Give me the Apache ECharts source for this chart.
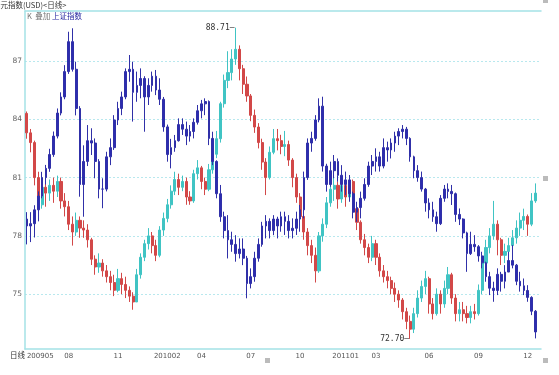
<!DOCTYPE html>
<html><head><meta charset="utf-8">
<script src="https://cdn.jsdelivr.net/npm/echarts@6/dist/echarts.min.js"></script>
<style>html,body{margin:0;padding:0;background:#fff}#c{width:559px;height:375px}</style>
</head><body><div id="c"></div>
<script>
// weekly bars, week 0 = 2009-05-18, last category left empty
const weekCount = 136;
const tickWeeks = [0, 11, 24, 37, 46, 59, 72, 84, 92, 106, 119, 132];
const tickLabels = ['200905', '08', '11', '201002', '04', '07', '10', '201101', '03', '06', '09', '12'];
const yTicks = [75, 78, 81, 84, 87];

// 美元指数 (weekly open / close / low / high)
const dxOpen = [84.3,83.3,82.8,81.0,79.6,80.5,80.2,80.6,80.3,80.8,79.8,79.5,78.6,78.2,78.8,78.4,78.3,77.8,76.8,76.4,
76.6,76.2,75.9,75.6,75.2,75.8,75.5,75.2,74.9,74.6,76.0,76.9,77.6,78.0,77.5,77.0,78.3,78.9,79.6,80.3,
80.9,80.5,80.8,80.0,79.8,81.2,81.5,80.8,80.4,81.4,82.2,83.0,84.8,86.0,86.4,87.1,87.6,86.6,85.8,85.2,
84.2,83.6,82.8,81.8,81.0,82.3,83.0,82.9,82.6,82.7,81.9,81.0,80.0,79.0,78.2,77.5,77.0,76.2,78.0,78.6,
79.7,80.4,80.6,79.9,80.6,80.0,80.8,79.4,78.7,77.8,77.4,76.9,77.6,76.9,76.2,75.9,75.7,75.3,75.0,74.7,
74.1,73.6,73.2,74.0,74.8,75.4,75.8,74.5,74.0,75.0,74.5,75.3,76.0,74.8,74.0,74.2,74.0,73.8,74.1,74.0,
75.2,76.6,77.4,78.0,78.6,77.8,77.0,77.2,77.5,77.9,78.4,78.8,79.0,78.6,79.8];
const dxClose = [83.3,82.8,81.0,79.6,80.5,80.2,80.6,80.3,80.8,79.8,79.5,78.6,78.2,78.8,78.4,78.3,77.8,76.8,76.4,76.6,
76.2,75.9,75.6,75.2,75.8,75.5,75.2,74.9,74.6,76.0,76.9,77.6,78.0,77.5,77.0,78.3,78.9,79.6,80.3,80.9,
80.5,80.8,80.0,79.8,81.2,81.5,80.8,80.4,81.4,82.2,83.0,84.8,86.0,86.4,87.1,87.6,86.6,85.8,85.2,84.2,
83.6,82.8,81.8,81.0,82.3,83.0,82.9,82.6,82.7,81.9,81.0,80.0,79.0,78.2,77.5,77.0,76.2,78.0,78.6,79.7,
80.4,80.6,79.9,80.6,80.0,80.8,79.4,78.7,77.8,77.4,76.9,77.6,76.9,76.2,75.9,75.7,75.3,75.0,74.7,74.1,
73.6,73.2,74.0,74.8,75.4,75.8,74.5,74.0,75.0,74.5,75.3,76.0,74.8,74.0,74.2,74.0,73.8,74.1,74.0,75.2,
76.6,77.4,78.0,78.6,77.8,77.0,77.2,77.5,77.9,78.4,78.8,79.0,78.6,79.8,80.2];
const dxLow = [83.0,82.3,80.6,79.0,79.4,79.5,79.8,79.7,80.0,79.4,79.0,78.3,77.5,78.0,77.9,77.9,77.4,76.5,76.0,76.1,
75.9,75.6,75.2,74.9,75.1,75.0,74.8,74.6,74.2,74.6,75.8,76.7,77.3,77.1,76.7,76.9,78.0,78.7,79.4,80.1,
80.1,80.3,79.6,79.6,79.7,80.9,80.4,80.1,80.3,81.2,82.0,82.8,84.6,85.6,86.0,86.8,86.0,85.3,84.9,83.9,
83.3,82.5,81.4,80.1,80.9,82.2,82.4,82.2,82.1,81.6,80.5,79.7,78.6,77.8,77.0,76.6,75.6,76.1,77.7,78.4,
79.5,79.8,79.4,79.7,79.5,79.8,79.1,78.3,77.6,77.0,76.6,76.7,76.5,75.9,75.6,75.3,75.0,74.6,74.3,73.7,
73.2,72.70,73.0,73.8,74.6,75.0,74.0,73.7,73.9,74.0,74.3,75.0,74.5,73.6,73.6,73.6,73.5,73.5,73.7,73.9,
75.0,76.4,77.1,77.8,77.0,76.5,76.6,76.9,77.2,77.6,78.0,78.3,78.0,78.5,79.7];
const dxHigh = [84.4,83.5,82.9,81.3,81.2,81.0,80.9,81.0,81.1,81.0,80.2,79.8,79.0,79.2,79.0,78.8,78.6,77.9,77.0,77.1,
76.8,76.5,76.2,76.0,76.3,76.1,75.9,75.4,75.1,76.3,77.1,77.8,78.4,78.2,77.8,78.5,79.2,79.9,80.6,81.3,
81.2,81.1,81.0,80.3,81.4,81.9,81.6,81.0,81.7,82.4,83.4,84.9,86.3,87.5,87.6,88.71,87.8,86.8,86.2,85.3,
84.5,83.8,83.0,82.0,82.6,83.5,83.5,83.2,83.4,82.9,82.0,81.2,80.2,79.2,78.4,77.8,77.4,78.2,78.9,80.0,
80.8,81.0,80.8,81.0,80.8,81.1,80.9,79.5,78.8,78.1,77.6,78.0,77.8,77.1,76.5,76.2,75.9,75.6,75.2,74.8,
74.3,73.9,74.3,75.2,75.7,76.2,75.9,74.8,75.3,75.2,75.7,76.4,76.1,75.0,74.6,74.6,74.4,74.4,74.5,75.5,
76.9,77.8,78.4,79.8,78.8,77.9,77.6,77.9,78.3,78.8,79.2,79.4,79.1,80.2,80.7];

// 上证指数 overlay (weekly open / close / low / high)
const shOpen = [2650,2620,2630,2690,2750,2830,2870,2930,3010,3110,3180,3290,3420,3300,3130,2800,2900,2990,2980,2900,
2780,2780,2920,2960,3080,3130,3180,3290,3300,3200,3230,3260,3180,3230,3270,3210,3170,3050,2930,2960,
2990,3060,3040,3010,3030,3070,3120,3150,3160,3000,2900,2760,2660,2600,2560,2540,2500,2520,2480,2370,
2400,2480,2540,2620,2640,2600,2650,2620,2660,2640,2600,2610,2650,2690,2830,2980,3000,3080,3140,2880,
2800,2860,2900,2840,2800,2820,2760,2680,2700,2740,2800,2880,2900,2920,2880,2960,2950,2980,3010,3030,
3040,3000,2920,2860,2830,2780,2720,2690,2660,2630,2740,2780,2770,2760,2670,2650,2590,2500,2540,2530,
2490,2460,2400,2350,2340,2410,2380,2420,2470,2450,2380,2360,2340,2310,2250];
const shClose = [2620,2630,2690,2750,2830,2870,2930,3010,3110,3180,3290,3420,3300,3130,2800,2900,2990,2980,2900,2780,
2780,2920,2960,3080,3130,3180,3290,3300,3200,3230,3260,3180,3230,3270,3210,3170,3050,2930,2960,2990,
3060,3040,3010,3030,3070,3120,3150,3160,3000,2900,2760,2660,2600,2560,2540,2500,2520,2480,2370,2400,
2480,2540,2620,2640,2600,2650,2620,2660,2640,2600,2610,2650,2690,2830,2980,3000,3080,3140,2880,2800,
2860,2900,2840,2800,2820,2760,2680,2700,2740,2800,2880,2900,2920,2880,2960,2950,2980,3010,3030,3040,
3000,2920,2860,2830,2780,2720,2690,2660,2630,2740,2780,2770,2760,2670,2650,2590,2500,2540,2530,2490,
2460,2400,2350,2340,2410,2380,2420,2470,2450,2380,2360,2340,2310,2250,2160];
const shLow = [2540,2550,2570,2640,2740,2800,2855,2920,3000,3100,3170,3280,3290,3100,2747,2660,2880,2928,2827,2740,
2697,2770,2884,2950,3058,3101,3170,3246,3073,3159,3174,3029,3145,3203,3188,3145,3029,2899,2870,2942,
2986,3015,2971,2986,3000,3060,3087,3101,2971,2884,2740,2638,2566,2479,2508,2465,2479,2450,2306,2349,
2378,2465,2530,2566,2566,2580,2566,2595,2581,2566,2566,2581,2595,2653,2820,2942,2990,3070,2856,2769,
2790,2827,2812,2769,2754,2725,2653,2638,2653,2730,2790,2841,2856,2856,2870,2899,2913,2942,2971,3000,
2971,2899,2827,2812,2769,2682,2653,2638,2595,2624,2725,2740,2711,2638,2624,2566,2421,2494,2508,2465,
2436,2378,2320,2291,2320,2335,2349,2421,2436,2363,2335,2320,2291,2233,2132];
const shHigh = [2680,2680,2710,2770,2855,2885,2955,3030,3130,3200,3318,3463,3478,3333,3140,2970,3058,3044,3000,2910,
2827,2942,3000,3101,3159,3203,3304,3362,3333,3290,3304,3270,3261,3290,3297,3261,3180,3060,2998,3015,
3087,3087,3073,3058,3087,3145,3167,3174,3165,3029,2905,2798,2682,2667,2595,2580,2566,2566,2490,2436,
2508,2566,2638,2667,2653,2667,2660,2682,2682,2667,2653,2682,2711,2856,3000,3029,3101,3174,3181,2890,
2899,2928,2913,2884,2856,2841,2769,2725,2769,2827,2899,2928,2957,2942,3000,2986,3000,3029,3044,3058,
3050,3005,2925,2884,2856,2785,2740,2725,2682,2754,2798,2805,2798,2765,2696,2653,2595,2595,2580,2537,
2508,2465,2421,2378,2436,2421,2450,2508,2537,2455,2421,2392,2363,2315,2255];

const weeks = [];
{
  let t = Date.UTC(2009, 4, 18);
  for (let i = 0; i < weekCount; i++) { weeks.push(new Date(t).toISOString().slice(0, 10)); t += 7 * 864e5; }
}
const dxData = dxOpen.map((o, i) => [o, dxClose[i], dxLow[i], dxHigh[i]]);
const shData = shOpen.map((o, i) => [o, shClose[i], shLow[i], shHigh[i]]);

const frame = '#a4e2e6';
const chart = echarts.init(document.getElementById('c'), null, {renderer: 'canvas'});
chart.setOption({
  animation: false,
  backgroundColor: '#fff',
  grid: {left: 25, top: 11, width: 516, height: 338, containLabel: false},
  xAxis: [{
    type: 'category', data: weeks, boundaryGap: true, position: 'bottom',
    axisLine: {lineStyle: {color: frame, width: 1.5}},
    axisTick: {show: false},
    splitLine: {show: false},
    axisLabel: {
      interval: (i) => tickWeeks.includes(i),
      formatter: (v, i) => tickLabels[tickWeeks.indexOf(i)],
      color: '#555', fontSize: 7, margin: 4, fontFamily: 'DejaVu Sans',
      alignMinLabel: 'left'
    }
  }, {
    type: 'category', data: weeks, boundaryGap: true, position: 'top',
    axisLine: {lineStyle: {color: frame, width: 1.5}},
    axisTick: {show: false}, axisLabel: {show: false}, splitLine: {show: false}
  }],
  yAxis: [{
    type: 'value', min: 72.18, max: 89.57, position: 'left',
    axisLine: {show: true, lineStyle: {color: frame, width: 1.5}},
    axisTick: {show: false, customValues: yTicks},
    axisLabel: {customValues: yTicks, color: '#666', fontSize: 7.5, margin: 3, fontFamily: 'DejaVu Sans'},
    splitLine: {show: true, lineStyle: {color: '#b8e8ee', type: [2, 2], width: 1}}
  }, {
    type: 'value', min: 2086, max: 3553, show: false
  }],
  series: [{
    type: 'candlestick', name: '美元指数', data: dxData, barWidth: 2.6,
    itemStyle: {color: '#40c4c4', color0: '#d24848', borderColor: '#40c4c4', borderColor0: '#d24848', borderWidth: 1},
    markPoint: {
      symbol: 'circle', symbolSize: 0,
      data: [{type: 'max', valueDim: 'highest'}, {type: 'min', valueDim: 'lowest'}],
      label: {show: true, position: 'left', distance: 1, color: '#333', fontSize: 8, fontFamily: 'DejaVu Sans Mono',
        formatter: (p) => Number(p.value).toFixed(2) + '\u2014'}
    }
  }, {
    type: 'candlestick', name: '上证指数', data: shData, yAxisIndex: 1, barWidth: 2.2,
    itemStyle: {color: '#2c2cb0', color0: '#2c2cb0', borderColor: '#3030a8', borderColor0: '#3030a8', borderWidth: 1}
  }],
  graphic: [
    {type: 'text', left: -7, top: 1, style: {text: '美元指数(USD)<日线>', fill: '#333', font: '7.5px "Noto Sans CJK SC"'}},
    {type: 'text', left: 27, top: 12, style: {
      text: '{g|K  叠加 }{b|上证指数}',
      rich: {g: {fill: '#777', font: '7.5px "Noto Sans CJK SC"'}, b: {fill: '#2828a0', font: '7.5px "Noto Sans CJK SC"'}}}},
    {type: 'text', left: 10, top: 351, style: {text: '日线', fill: '#333', font: '7.5px "Noto Sans CJK SC"'}},
    {type: 'rect', left: 543, top: -2, shape: {width: 5, height: 5}, style: {fill: '#bbb'}},
    {type: 'rect', left: 543, top: 176, shape: {width: 5, height: 5}, style: {fill: '#bbb'}},
    {type: 'rect', left: 265, top: 358, shape: {width: 5, height: 5}, style: {fill: '#bbb'}},
    {type: 'rect', left: 543, top: 358, shape: {width: 5, height: 5}, style: {fill: '#bbb'}}
  ]
});
</script>
</body></html>
